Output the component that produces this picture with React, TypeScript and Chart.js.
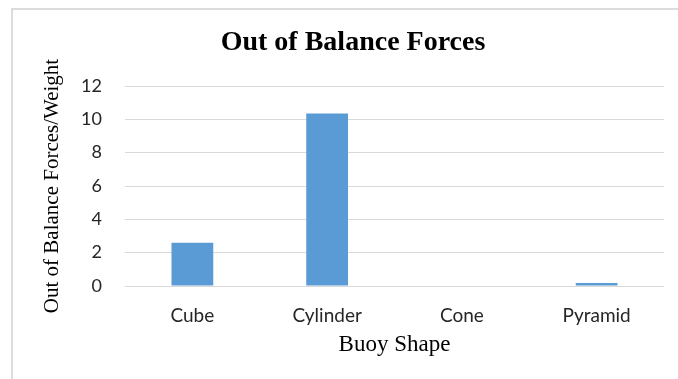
import React, { useEffect, useRef } from "react";
import { Chart, registerables } from "chart.js";

Chart.register(...registerables);

const categories = ["Cube", "Cylinder", "Cone", "Pyramid"];
const values = [2.6, 10.35, 0, 0.18];
const chartTitle = "Out of Balance Forces";
const xTitle = "Buoy Shape";
const yTitle = "Out of Balance Forces/Weight";

export default function App() {
  const ref = useRef<HTMLCanvasElement>(null);
  useEffect(() => {
    const ctx = ref.current!;
    const chart = new Chart(ctx, {
      type: "bar",
      data: {
        labels: categories,
        datasets: [
          {
            data: values,
            backgroundColor: "#5b9bd5",
            borderWidth: 0,
            categoryPercentage: 1,
            barPercentage: 0.31,
          },
        ],
      },
      options: {
        responsive: false,
        animation: false,
        layout: { padding: { left: 42, right: 14, top: 0, bottom: 0 } },
        plugins: {
          legend: { display: false },
          tooltip: { enabled: false },
          title: {
            display: true,
            text: chartTitle,
            color: "#000000",
            font: { family: "'Liberation Serif', 'Times New Roman', serif", size: 28, weight: "bold", lineHeight: 1.2 },
            padding: { top: 26, bottom: 26.4 },
          },
        },
        scales: {
          x: {
            grid: { display: false },
            border: { display: false },
            ticks: {
              color: "#262626",
              font: { family: "Lato, 'Noto Sans', sans-serif", size: 19, lineHeight: 1.2 },
              padding: 10,
            },
            title: {
              display: true,
              text: xTitle,
              color: "#000000",
              font: { family: "'Liberation Serif', 'Times New Roman', serif", size: 23, lineHeight: 1.2 },
              padding: { top: 0, bottom: 20 },
            },
            afterFit: (s: any) => {
              s.height = 93;
            },
          },
          y: {
            min: 0,
            max: 12,
            ticks: {
              stepSize: 2,
              color: "#262626",
              font: { family: "Lato, 'Noto Sans', sans-serif", size: 18, lineHeight: 1.2 },
              padding: 23,
            },
            grid: { color: "#d9d9d9", lineWidth: 1, drawTicks: false },
            border: { display: false },
            title: {
              display: true,
              text: yTitle,
              color: "#000000",
              font: { family: "'Liberation Serif', 'Times New Roman', serif", size: 21, lineHeight: 1 },
              padding: { top: 0, bottom: 0 },
            },
            afterFit: (s: any) => {
              s.width = 83;
            },
          },
        },
      },
    });
    return () => chart.destroy();
  }, []);
  return (
    <div style={{ position: "fixed", left: 0, top: 0, width: 678, height: 379, background: "#ffffff", overflow: "hidden" }}>
      <div
        style={{
          position: "absolute",
          left: 11,
          top: 8,
          width: 720,
          height: 420,
          border: "2px solid #dcdcdc",
          boxSizing: "border-box",
        }}
      />
      <canvas ref={ref} width={678} height={379} style={{ position: "absolute", left: 0, top: 0 }} />
    </div>
  );
}
